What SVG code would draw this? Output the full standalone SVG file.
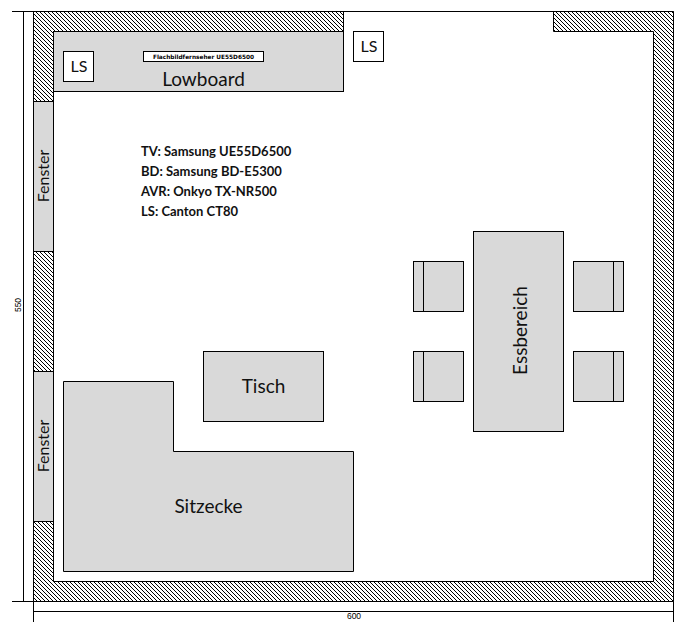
<svg xmlns="http://www.w3.org/2000/svg" width="689" height="638" viewBox="0 0 689 638">
<style>
.box{fill:#d9d9d9;stroke:#000;stroke-width:1}
.white{fill:#fff;stroke:#000;stroke-width:1}
.wall{fill:url(#hatch);stroke:#000;stroke-width:1}
.dim{fill:none;stroke:#000;stroke-width:1}
text{font-family:"Lato","Open Sans","Liberation Sans",sans-serif;fill:#111;text-anchor:middle}
.l{font-size:19px}
.ls{font-size:16px}
.info{font-size:13px;font-weight:700;text-anchor:start}
.small{font-family:"Liberation Sans",sans-serif;font-size:8.5px;fill:#000}
.tv{font-family:"DejaVu Sans",sans-serif;font-size:5.8px;font-weight:700;fill:#000}
</style>
<defs>
<pattern id="hatch" width="4" height="4" patternUnits="userSpaceOnUse">
<rect width="4" height="4" fill="#fff"/>
<path d="M-1,-1L5,5M-1,3L1,5M3,-1L5,1" stroke="#000" stroke-width="1"/>
</pattern>
</defs>
<rect width="689" height="638" fill="#fff"/>
<g id="wand">
<path class="wall" d="M33.5,11.5H343.5V31.5H53.5V581.5H653.5V31.5H553.5V11.5H673.5V601.5H33.5Z"/>
</g>
<g id="fenster1"><rect class="box" x="33.5" y="101.5" width="20" height="150"/><text class="ls" transform="translate(49,176) rotate(-90)">Fenster</text></g>
<g id="fenster2"><rect class="box" x="33.5" y="371.5" width="20" height="150"/><text class="ls" transform="translate(49,446) rotate(-90)">Fenster</text></g>
<g id="lowboard"><rect class="box" x="53.5" y="31.5" width="290" height="60"/><text class="l" x="203.5" y="86">Lowboard</text></g>
<g id="ls1"><rect class="white" x="63.5" y="51.5" width="30" height="30"/><text class="ls" x="79" y="72">LS</text></g>
<g id="ls2"><rect class="white" x="353.5" y="31.5" width="30" height="30"/><text class="ls" x="369" y="52">LS</text></g>
<g id="tv"><rect class="white" x="143.5" y="51.5" width="120" height="10"/><text class="tv" x="203.5" y="59">Flachbildfernseher UE55D6500</text></g>
<g id="info">
<text class="info" x="141" y="156">TV: Samsung UE55D6500</text>
<text class="info" x="141" y="176">BD: Samsung BD-E5300</text>
<text class="info" x="141" y="196">AVR: Onkyo TX-NR500</text>
<text class="info" x="141" y="216">LS: Canton CT80</text>
</g>
<g id="tisch"><rect class="box" x="203.5" y="351.5" width="120" height="70"/><text class="l" x="263.5" y="393">Tisch</text></g>
<g id="sitzecke"><path class="box" d="M63.5,381.5H173.5V451.5H353.5V571.5H63.5Z"/><text class="l" x="208.5" y="513">Sitzecke</text></g>
<g id="essbereich"><rect class="box" x="473.5" y="231.5" width="90" height="200"/><text class="l" transform="translate(527,330.5) rotate(-90)">Essbereich</text></g>
<g id="stuhl1"><rect class="box" x="413.5" y="261.5" width="50" height="50"/><path class="dim" d="M423.5,261.5V311.5"/></g>
<g id="stuhl2"><rect class="box" x="413.5" y="351.5" width="50" height="50"/><path class="dim" d="M423.5,351.5V401.5"/></g>
<g id="stuhl3"><rect class="box" x="573.5" y="261.5" width="50" height="50"/><path class="dim" d="M613.5,261.5V311.5"/></g>
<g id="stuhl4"><rect class="box" x="573.5" y="351.5" width="50" height="50"/><path class="dim" d="M613.5,351.5V401.5"/></g>
<g id="connectors">
<path class="dim" d="M12,11.5H673.5M12,601.5H673.5M23.5,11.5V601.5M33.5,601.5V622M33.5,611.5H673.5M673.5,601.5V622"/>
</g>
<g id="masse">
<text class="small" transform="translate(21,305) rotate(-90)">550</text>
<text class="small" x="354" y="619">600</text>
</g>
</svg>
